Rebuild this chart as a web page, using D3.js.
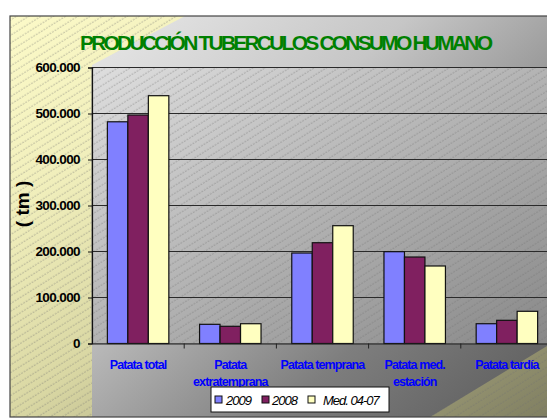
<!DOCTYPE html>
<html>
<head>
<meta charset="utf-8">
<script src="https://cdn.jsdelivr.net/npm/d3@7"></script>
<style>
  body { margin: 0; background: #fff; }
  svg { display: block; font-family: "Liberation Sans", Arial, sans-serif; }
</style>
</head>
<body>
<div class="container"></div>
<script>
// DATA
const categories = ["Patata total", "Patata\nextratemprana", "Patata temprana", "Patata med.\nestación", "Patata tardía"];
const seriesNames = ["2009", "2008", "Med. 04-07"];
const values2009 = [482000, 41700, 196700, 199600, 43000];
const values2008 = [496700, 37400, 219100, 188000, 50400];
const valuesMed = [538700, 43000, 256100, 168500, 70000];
const seriesColors = ["#8080ff", "#802060", "#ffffc0"];
const yTicks = [0, 100000, 200000, 300000, 400000, 500000, 600000];

const rows = categories.map((c, i) => ({
  cat: c,
  vals: [values2009[i], values2008[i], valuesMed[i]]
}));

// SETUP
const W = 547, H = 418;
const chart = { left: 10, top: 16, right: 560, bottom: 417 };
const plot = { left: 92, top: 67.5, right: 553, bottom: 343.5 };

const svg = d3.select("div.container")
  .append("svg")
  .attr("width", W)
  .attr("height", H);

const defs = svg.append("defs");

// gradients (diagonal, top-left to bottom-right)
function diagGradient(id, stops) {
  const g = defs.append("linearGradient").attr("id", id)
    .attr("x1", "0%").attr("y1", "0%").attr("x2", "100%").attr("y2", "100%");
  stops.forEach(s => g.append("stop").attr("offset", s[0]).attr("stop-color", s[1]));
}
diagGradient("gYellow", [["0%", "#fcfac8"], ["25%", "#f0eebb"], ["50%", "#d9d7a3"], ["75%", "#a8a67f"], ["100%", "#7e7d60"]]);
diagGradient("gGray", [["0%", "#e8e8e8"], ["35%", "#c6c6c6"], ["70%", "#7e7e7e"], ["100%", "#5a5a5a"]]);
diagGradient("gPlot", [["0%", "#dedede"], ["100%", "#888888"]]);

// hatch pattern
const hatch = defs.append("pattern").attr("id", "hatch")
  .attr("patternUnits", "userSpaceOnUse")
  .attr("width", 12).attr("height", 6.5)
  .attr("patternTransform", "rotate(-32)");
hatch.append("line")
  .attr("x1", 0).attr("y1", 3).attr("x2", 12).attr("y2", 3)
  .attr("stroke", "#6e6e6e").attr("stroke-width", 0.6)
  .attr("stroke-dasharray", "2,1").attr("opacity", 0.7);

// CHART AREA BACKGROUND
svg.append("rect")
  .attr("x", chart.left).attr("y", chart.top)
  .attr("width", chart.right - chart.left).attr("height", chart.bottom - chart.top)
  .attr("fill", "url(#gYellow)");
svg.append("rect")
  .attr("x", chart.left).attr("y", chart.top)
  .attr("width", chart.right - chart.left).attr("height", chart.bottom - chart.top)
  .attr("fill", "url(#hatch)");

// gray band over the middle
svg.append("path")
  .attr("d", `M185,${chart.top} L${W},${chart.top} L${W},346 L430,${chart.bottom} L${plot.left},${chart.bottom} L${plot.left},65 Z`)
  .attr("fill", "url(#gGray)");

svg.append("rect")
  .attr("x", chart.left).attr("y", chart.top)
  .attr("width", chart.right - chart.left).attr("height", chart.bottom - chart.top)
  .attr("fill", "none").attr("stroke", "#444").attr("stroke-width", 1.2);

// PLOT AREA
svg.append("rect")
  .attr("x", plot.left).attr("y", plot.top)
  .attr("width", plot.right - plot.left).attr("height", plot.bottom - plot.top)
  .attr("fill", "url(#gPlot)");
svg.append("rect")
  .attr("x", plot.left).attr("y", plot.top)
  .attr("width", plot.right - plot.left).attr("height", plot.bottom - plot.top)
  .attr("fill", "url(#hatch)")
  .attr("stroke", "#777").attr("stroke-width", 1);

// SCALES
const x = d3.scaleBand()
  .domain(categories)
  .range([plot.left, plot.right])
  .paddingInner(0).paddingOuter(0);

const barW = x.bandwidth() / 4.5;
const xs = d3.scaleBand()
  .domain(seriesNames)
  .range([barW * 0.75, x.bandwidth() - barW * 0.75]);

const y = d3.scaleLinear()
  .domain([0, 600000])
  .range([plot.bottom, plot.top]);

const locale = d3.formatLocale({ decimal: ",", thousands: ".", grouping: [3], currency: ["", "€"] });
const fmt = locale.format(",d");

// gridlines
svg.append("g")
  .selectAll("line")
  .data(yTicks.slice(1))
  .enter()
  .append("line")
  .attr("x1", plot.left).attr("x2", plot.right)
  .attr("y1", d => y(d)).attr("y2", d => y(d))
  .attr("stroke", "#2a2a2a").attr("stroke-width", 1);

// BARS
const groups = svg.append("g")
  .selectAll("g")
  .data(rows)
  .enter()
  .append("g")
  .attr("transform", d => `translate(${x(d.cat)},0)`);

groups.selectAll("rect")
  .data(d => d.vals.map((v, i) => ({ v, s: seriesNames[i], i })))
  .enter()
  .append("rect")
  .attr("x", d => xs(d.s))
  .attr("width", xs.bandwidth())
  .attr("y", d => y(d.v))
  .attr("height", d => y(0) - y(d.v))
  .attr("fill", d => seriesColors[d.i])
  .attr("stroke", "#111")
  .attr("stroke-width", 1.2);

// AXES
const yAxis = svg.append("g")
  .attr("transform", `translate(${plot.left},0)`)
  .call(d3.axisLeft(y).tickValues(yTicks).tickFormat(fmt).tickSize(4).tickPadding(8));
yAxis.select(".domain").attr("stroke", "#111").attr("stroke-width", 1.2);
yAxis.selectAll(".tick line").attr("stroke", "#111");
yAxis.selectAll("text")
  .attr("fill", "#000")
  .style("font-size", "13.5px")
  .style("font-weight", "bold")
  .style("letter-spacing", "-0.6px");

const xAxis = svg.append("g")
  .attr("transform", `translate(0,${plot.bottom})`)
  .call(d3.axisBottom(x).tickSize(0).tickFormat(""));
xAxis.select(".domain").attr("stroke", "#222").attr("stroke-width", 1.2);

// category separator ticks
svg.append("g")
  .selectAll("line")
  .data(categories.slice(1))
  .enter()
  .append("line")
  .attr("x1", d => x(d)).attr("x2", d => x(d))
  .attr("y1", plot.bottom).attr("y2", plot.bottom + 5)
  .attr("stroke", "#222").attr("stroke-width", 1);

// category labels
const catLabels = svg.append("g")
  .selectAll("text")
  .data(categories)
  .enter()
  .append("text")
  .attr("x", d => x(d) + x.bandwidth() / 2)
  .attr("y", 369)
  .attr("text-anchor", "middle")
  .attr("fill", "#0000ff")
  .style("font-size", "12.5px")
  .style("font-weight", "bold")
  .style("letter-spacing", "-0.9px");

catLabels.selectAll("tspan")
  .data(d => d.split("\n"))
  .enter()
  .append("tspan")
  .attr("x", function () { return d3.select(this.parentNode).attr("x"); })
  .attr("dy", (d, i) => i === 0 ? 0 : 17)
  .text(d => d);

// TITLE
svg.append("text")
  .attr("x", 80)
  .attr("y", 50)
  .attr("fill", "#008000")
  .style("font-size", "21px")
  .style("font-weight", "bold")
  .style("letter-spacing", "-2.8px")
  .text("PRODUCCIÓN TUBERCULOS CONSUMO HUMANO");

// Y AXIS TITLE
svg.append("text")
  .attr("transform", "translate(29,204) rotate(-90)")
  .attr("text-anchor", "middle")
  .attr("fill", "#000")
  .style("font-size", "19px")
  .style("font-weight", "bold")
  .text("( tm )");

// LEGEND
const legend = svg.append("g").attr("id", "legend");
legend.append("rect")
  .attr("x", 211).attr("y", 387)
  .attr("width", 178).attr("height", 25)
  .attr("fill", "#fff").attr("stroke", "#111").attr("stroke-width", 1);

const legendX = [215, 262, 308];
const legendTextX = [226, 272, 323];
const items = legend.selectAll("g.item")
  .data(seriesNames)
  .enter()
  .append("g")
  .attr("class", "item");

items.append("rect")
  .attr("x", (d, i) => legendX[i])
  .attr("y", 396)
  .attr("width", 7).attr("height", 7)
  .attr("fill", (d, i) => seriesColors[i])
  .attr("stroke", "#111").attr("stroke-width", 1);

items.append("text")
  .attr("x", (d, i) => legendTextX[i])
  .attr("y", 405)
  .attr("fill", "#000")
  .style("font-size", "13px")
  .style("font-style", "italic")
  .style("letter-spacing", "-1px")
  .text(d => d);
</script>
</body>
</html>
